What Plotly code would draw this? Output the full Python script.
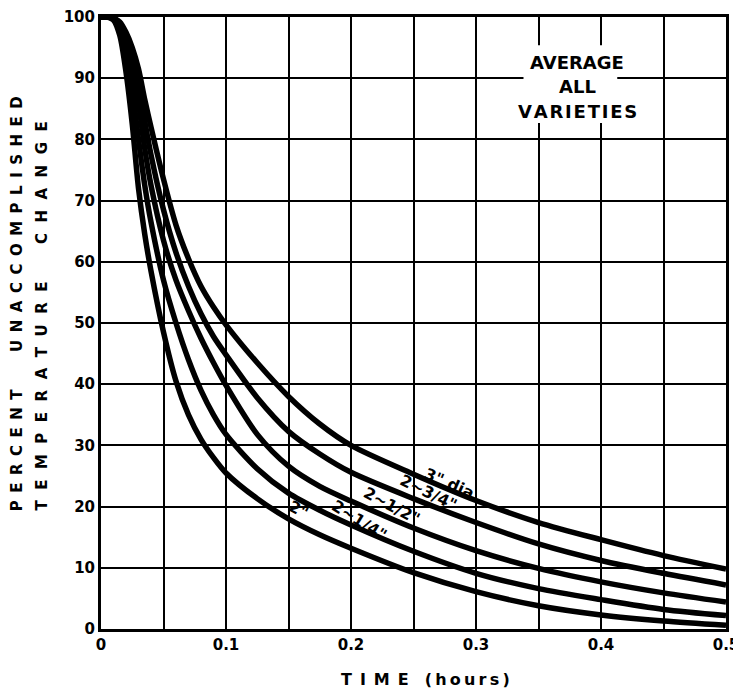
import plotly.graph_objects as go

# Time (hours) sample points
time_h = [0, 0.005, 0.01, 0.015, 0.02, 0.025, 0.03, 0.035, 0.04, 0.05, 0.06, 0.07,
          0.08, 0.09, 0.1, 0.125, 0.15, 0.175, 0.2, 0.25, 0.3, 0.35, 0.4, 0.45, 0.5]

# Percent unaccomplished temperature change, one list per fruit diameter
d_2 = [100, 100, 99.5, 97, 91, 82.5, 72, 64.5, 58.5, 48.5, 40.5, 35,
       31, 28, 25.5, 21.3, 18.0, 15.4, 13.2, 9.2, 6.1, 3.8, 2.3, 1.3, 0.6]
d_2_25 = [100, 100, 99.7, 98, 94, 88, 80, 72.5, 66.5, 57, 50, 44,
          39, 35, 31.8, 26.2, 22.2, 19.4, 17.0, 12.7, 9.1, 6.6, 4.8, 3.2, 2.2]
d_2_5 = [100, 100, 99.8, 98.5, 96, 92.5, 86, 78.5, 72.5, 63.5, 57, 52,
         47.5, 43.5, 39.8, 31.8, 26.6, 23.3, 20.9, 16.5, 12.8, 9.9, 7.7, 5.9, 4.4]
d_2_75 = [100, 100, 99.8, 99, 97, 94, 89, 83, 77.5, 68.5, 61.5, 56,
          51.5, 47.8, 44.8, 37.8, 32.3, 28.6, 25.6, 21.3, 17.4, 13.9, 11.2, 9.1, 7.2]
d_3 = [100, 100, 99.8, 99.2, 97.5, 95, 91.5, 86.5, 82, 73.5, 66, 60.5,
       56, 52.6, 49.7, 43.5, 38, 33.5, 30, 25.3, 21, 17.4, 14.6, 12, 9.8]

series = [("2\"", d_2), ("2-1/4\"", d_2_25), ("2-1/2\"", d_2_5),
          ("2-3/4\"", d_2_75), ("3\" dia", d_3)]

# curve labels: text, x, y, angle
label_text = ["2\"", "2~1/4\"", "2~1/2\"", "2~3/4\"", "3\" dia"]
label_x = [0.158, 0.207, 0.232, 0.262, 0.279]
label_y = [19.6, 17.8, 20.1, 22.3, 23.8]
label_angle = [28, 32, 28, 26, 24]

x_ticks = [0, 0.1, 0.2, 0.3, 0.4, 0.5]
x_ticklabels = ["0", "0.1", "0.2", "0.3", "0.4", "0.5"]
y_ticks = list(range(0, 101, 10))

FONT = "DejaVu Sans"
BOLD = dict(family=FONT, color="black", weight="bold")

fig = go.Figure()
for name, vals in series:
    fig.add_trace(go.Scatter(
        x=time_h, y=vals, mode="lines", name=name,
        line=dict(color="black", width=5.5, shape="spline", smoothing=0.8),
        showlegend=False, hoverinfo="skip"))

for t, lx, ly, ang in zip(label_text, label_x, label_y, label_angle):
    fig.add_annotation(x=lx, y=ly, text=t, showarrow=False, textangle=ang,
                       xanchor="center", yanchor="middle",
                       font=dict(BOLD, size=16))

# white patch behind the "AVERAGE ALL VARIETIES" note (grid is broken there)
fig.add_shape(type="rect", x0=0.338, x1=0.413, y0=82.7, y1=95.4,
              fillcolor="white", line=dict(width=0), layer="above")
hair = "\u200a"
for txt, yy in [("AVERAGE", 92.6), ("ALL", 88.6), (hair.join("VARIETIES"), 84.6)]:
    fig.add_annotation(x=0.381, y=yy, text=txt, showarrow=False,
                       xanchor="center", yanchor="middle",
                       font=dict(BOLD, size=18))

sp = "\u2002"
def spaced(s, sep=sp):
    return sep.join(list(s))

fig.add_annotation(xref="paper", yref="paper", x=-0.133, y=0.532,
                   xanchor="center", yanchor="middle",
                   text=spaced("PERCENT") + sp * 5 + spaced("UNACCOMPLISHED"),
                   textangle=-90, showarrow=False, font=dict(BOLD, size=15))
sep2 = sp + "\u2009"
fig.add_annotation(xref="paper", yref="paper", x=-0.094, y=0.511,
                   xanchor="center", yanchor="middle",
                   text=spaced("TEMPERATURE", sep2) + sp * 5 + spaced("CHANGE", sep2),
                   textangle=-90, showarrow=False, font=dict(BOLD, size=15))
fig.add_annotation(xref="paper", yref="paper", x=0.519, y=-0.082,
                   xanchor="center", yanchor="middle",
                   text=spaced("TIME") + sp * 2 + spaced("(hours)", "\u2009"),
                   showarrow=False, font=dict(BOLD, size=16))

fig.update_xaxes(range=[0, 0.5], tickvals=x_ticks, ticktext=x_ticklabels,
                 showgrid=True, gridcolor="black", gridwidth=2,
                 minor=dict(dtick=0.05, tick0=0, showgrid=True,
                            gridcolor="black", gridwidth=2),
                 showline=True, linecolor="black", linewidth=3, mirror=True,
                 ticks="", zeroline=False, automargin=False,
                 tickfont=dict(BOLD, size=15))
fig.update_yaxes(range=[0, 100], tickvals=y_ticks,
                 showgrid=True, gridcolor="black", gridwidth=2,
                 showline=True, linecolor="black", linewidth=3, mirror=True,
                 ticks="", zeroline=False, ticklabelstandoff=0, automargin=False,
                 tickfont=dict(BOLD, size=15))

fig.update_layout(width=741, height=692,
                  margin=dict(l=93, r=23, t=9, b=71),
                  plot_bgcolor="white", paper_bgcolor="white")

fig.write_html("out.html")
